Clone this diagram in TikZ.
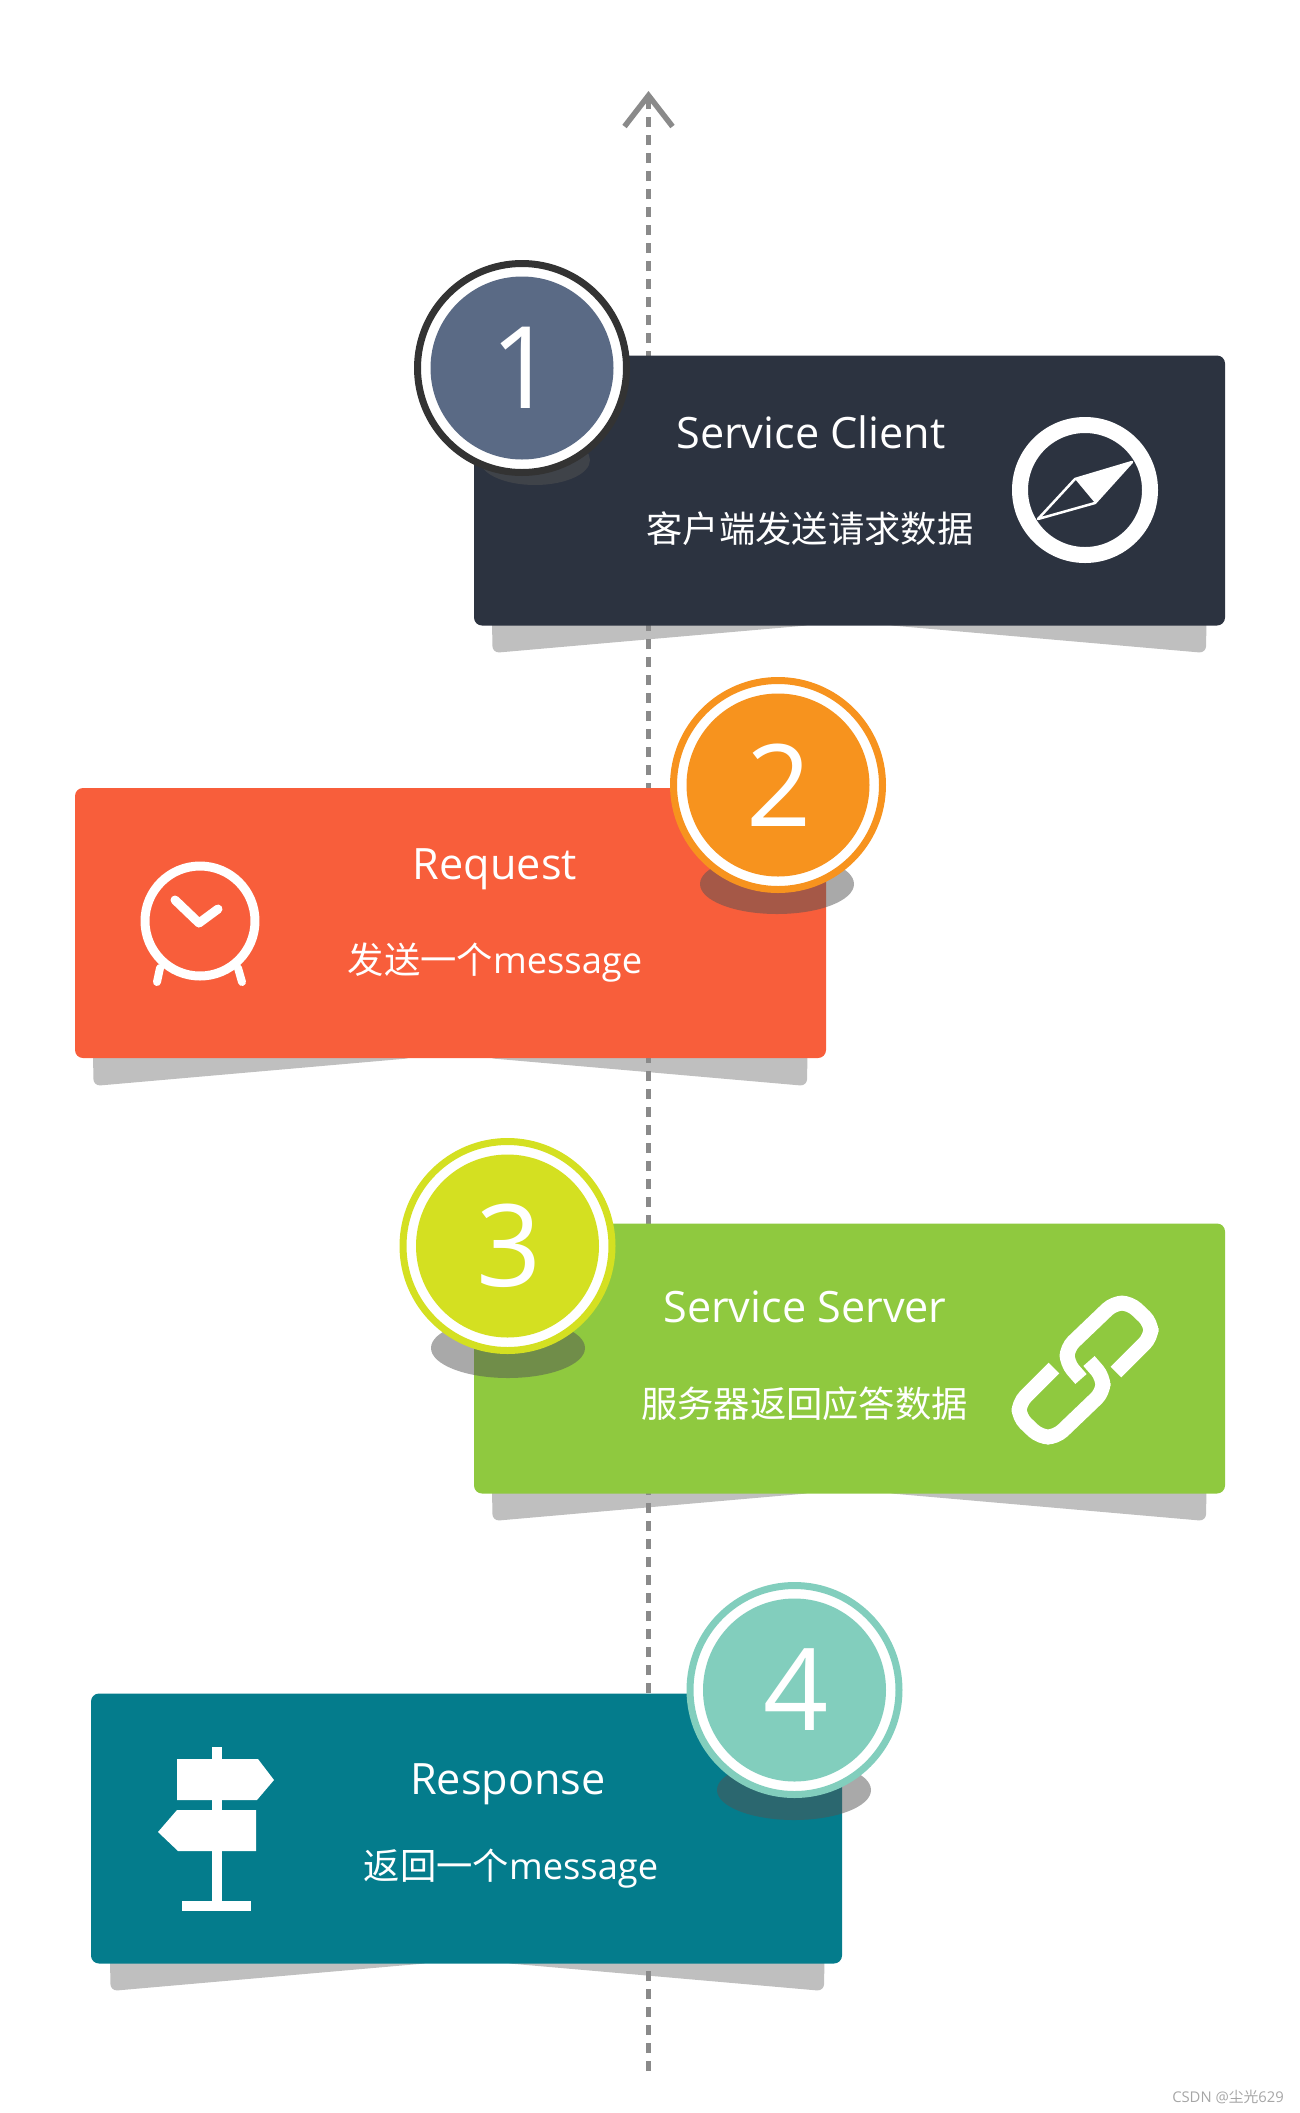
\documentclass[tikz,border=0pt]{standalone}
\usepackage{fontspec}
\setmainfont{Open Sans}
\newfontfamily\cjkfont{Noto Sans CJK SC}
\usetikzlibrary{arrows.meta}
\definecolor{clientcard}{HTML}{2C3340}
\definecolor{clientbadge}{HTML}{5A6A85}
\definecolor{clientring}{HTML}{333333}
\definecolor{requestcard}{HTML}{F85E3B}
\definecolor{requestbadge}{HTML}{F7931E}
\definecolor{servercard}{HTML}{8FC93F}
\definecolor{serverbadge}{HTML}{D4E021}
\definecolor{responsecard}{HTML}{047C8C}
\definecolor{responsebadge}{HTML}{82CEBD}
\definecolor{axisgray}{HTML}{8A8A8A}
\definecolor{flapgray}{HTML}{BFBFBF}
\definecolor{spotgray}{HTML}{535353}
\tikzset{
  cardbox/.style={rectangle,rounded corners=8pt,minimum width=751pt,minimum height=270pt,inner sep=0pt},
  ringdisc/.style={circle,fill=white,line width=7pt,minimum size=209pt,inner sep=0pt},
  badge/.style={circle,minimum size=183pt,inner sep=0pt,text=white,font=\fontsize{114}{114}\selectfont},
  titletext/.style={inner sep=0pt,text=white,font=\fontsize{43.2}{50}\selectfont},
  subtext/.style={inner sep=0pt,text=white,font=\fontsize{36.3}{44}\selectfont},
  spot/.style={fill=spotgray,fill opacity=0.5},
  iconline/.style={draw=white,line cap=round,line join=round}
}
% flap under a card, (#1) is the lower left corner of the card
\newcommand{\cardflap}[1]{
  \fill[flapgray,shift={(#1)},rounded corners=7pt] (18,-8) -- (18.5,28) -- (338,0) -- (338,-8) -- (412,-8) -- (412,0)
    -- (732,28) -- (732.5,-8) -- cycle;
}
\begin{document}
\begin{tikzpicture}[x=1pt,y=-1pt]
  \useasboundingbox (0,0) rectangle (1299,2113);

  \cardflap{474,625}
  \cardflap{75,1058}
  \cardflap{474,1493}
  \cardflap{92,1963}

  % time axis
  \coordinate (axisbottom) at (648.5,2071);
  \coordinate (axistop) at (648.5,91);
  \draw[axisgray,line width=5.5pt,dash pattern=on 10pt off 8pt,-{Straight Barb[length=31pt,width=48pt]}] (axisbottom) -- (axistop);

  % Service Client
  \node[cardbox,fill=clientcard] (clientbox) at (849.5,490.5) {};
  \fill[spot] (535,460) ellipse (55 and 25);
  \node[ringdisc,draw=clientring] (clientring) at (522,368) {};
  \node[badge,fill=clientbadge] (clientnum) at (522,368) {\hspace{3pt}1};
  \node[titletext] (clienttitle) at (811,432) {Service Client};
  \node[subtext] (clientsub) at (810,529) {\cjkfont 客户端发送请求数据};
  \draw[iconline,line width=16pt] (1085,490) circle (65);
  \fill[white] (1132,462) -- (1075,479) -- (1095,503) -- cycle;
  \draw[iconline,line width=2.5pt] (1132,462) -- (1075,479) -- (1038,519) -- (1095,503) -- cycle;

  % Request
  \node[cardbox,fill=requestcard] (requestbox) at (450.5,923) {};
  \fill[spot] (777,884) ellipse (77 and 30);
  \node[ringdisc,draw=requestbadge] (requestring) at (778,785) {};
  \node[badge,fill=requestbadge] (requestnum) at (778,785) {\hspace{3pt}2};
  \node[titletext] (requesttitle) at (495,869) {Request};
  \node[subtext] (requestsub) at (495,963) {{\cjkfont 发送一个}message};
  \draw[iconline,line width=9pt] (200,921) circle (55);
  \draw[iconline,line width=9pt] (175,900) -- (199,923) -- (218,909);
  \draw[iconline,line width=8pt] (160,968) -- (157,982);
  \draw[iconline,line width=8pt] (238,968) -- (242,982);

  % Service Server
  \node[cardbox,fill=servercard] (serverbox) at (849.5,1358.5) {};
  \fill[spot] (508,1348) ellipse (77 and 30);
  \node[ringdisc,draw=serverbadge] (serverring) at (507.5,1246) {};
  \node[badge,fill=serverbadge] (servernum) at (507.5,1246) {\hspace{3pt}3};
  \node[titletext] (servertitle) at (805,1307) {Service Server};
  \node[subtext] (serversub) at (804.5,1404) {\cjkfont 服务器返回应答数据};
  \draw[white,line width=15pt,rounded corners=9pt] (1116,1372) -- (1151,1337) -- (1151,1323) -- (1130,1303) -- (1114,1303) -- (1067,1348) -- (1067,1363) -- (1081,1379);
  \draw[white,line width=15pt,rounded corners=9pt] (1054,1368) -- (1019,1403) -- (1019,1417) -- (1040,1437) -- (1056,1437) -- (1103,1392) -- (1103,1377) -- (1089,1361);

  % Response
  \node[cardbox,fill=responsecard] (responsebox) at (466.5,1828.5) {};
  \fill[spot] (794,1790) ellipse (77 and 30);
  \node[ringdisc,draw=responsebadge] (responsering) at (794.5,1690) {};
  \node[badge,fill=responsebadge] (responsenum) at (794.5,1690) {\hspace{3pt}4};
  \node[titletext] (responsetitle) at (508,1784) {Response};
  \node[subtext] (responsesub) at (511,1869) {{\cjkfont 返回一个}message};
  \fill[white] (212,1747) rectangle (222,1905);
  \fill[white] (182,1901) rectangle (251,1911);
  \fill[white] (177,1759) -- (258,1759) -- (274,1780) -- (257,1800) -- (177,1800) -- cycle;
  \fill[white] (256,1810) -- (177,1810) -- (158,1832) -- (178,1851) -- (256,1851) -- cycle;

  \node[inner sep=0pt,anchor=east,text=gray!70,font=\fontsize{14.8}{16}\selectfont] (watermark) at (1284,2097) {CSDN @{\cjkfont 尘光}629};
\end{tikzpicture}
\end{document}
